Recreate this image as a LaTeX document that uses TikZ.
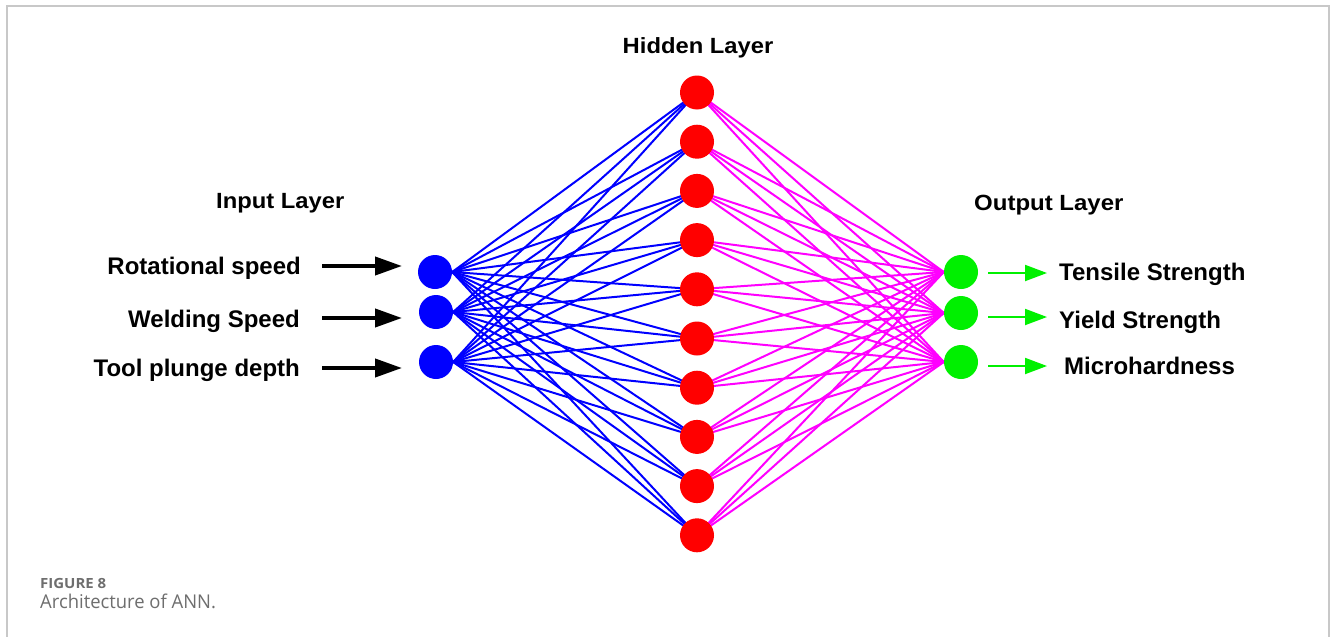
\documentclass[tikz,border=0pt]{standalone}
\usepackage{fontspec}
\setmainfont{Liberation Sans}
\newfontfamily\capfont{Open Sans}
\usetikzlibrary{arrows.meta}
\pgfdeclarelayer{paper}
\pgfdeclarelayer{bg}
\pgfsetlayers{paper,bg,main}
\definecolor{framegray}{HTML}{C8C8C8}
\definecolor{capgray}{HTML}{6E6E6E}
\definecolor{ngreen}{HTML}{00F000}
\definecolor{nblue}{HTML}{0000FF}
\definecolor{nred}{HTML}{FF0000}
\definecolor{nmag}{HTML}{FF00FF}
\begin{document}
\begin{tikzpicture}[x=1pt,y=-1pt,
  neuron/.style={circle,minimum size=34pt,inner sep=0pt},
  innode/.style={neuron,fill=nblue},
  hidnode/.style={neuron,fill=nred},
  outnode/.style={neuron,fill=ngreen},
  lbl/.style={font=\fontsize{24}{28}\selectfont\bfseries,inner sep=0pt},
  head/.style={font=\fontsize{22}{26}\selectfont\bfseries,inner sep=0pt},
  bline/.style={nblue,line width=2pt},
  mline/.style={nmag,line width=2pt},
  inarrow/.style={black,line width=4pt,-{Triangle[length=27pt,width=18pt]}},
  outarrow/.style={ngreen,line width=2pt,-{Triangle[length=22pt,width=16pt]}},
  captop/.style={anchor=base west,inner sep=0pt,text=capgray,font=\capfont\bfseries\fontsize{14}{16}\selectfont},
  capbody/.style={anchor=base west,inner sep=0pt,text=capgray,font=\capfont\fontsize{19}{22}\selectfont}
]
\useasboundingbox (0,0) rectangle (1331,637);
\begin{pgfonlayer}{paper}
\fill[white] (0,0) rectangle (1331,637);
\draw[framegray,line width=1.5pt] (7,637) -- (7,6) -- (1329,6) -- (1329,637);
\end{pgfonlayer}

% neurons
\node[innode] (i1) at (435,272) {};
\node[innode] (i2) at (436,312) {};
\node[innode] (i3) at (436,362) {};
\foreach \k in {1,...,10} \node[hidnode] (h\k) at (697,{92.5+49.2*(\k-1)}) {};
\node[outnode] (o1) at (961,272) {};
\node[outnode] (o2) at (961,313) {};
\node[outnode] (o3) at (961,362) {};

% connections
\begin{pgfonlayer}{bg}
\foreach \i in {1,2,3} \foreach \k in {1,...,10} {
  \draw[bline] (i\i.east) -- (h\k.center);
  \draw[mline] (h\k.center) -- (o\i.west);
}
\end{pgfonlayer}

% headings
\node[head,anchor=base west] (hin) at (216,208) {\scalebox{1.08}[1]{Input Layer}};
\node[head,anchor=base] (hhid) at (698,53) {\scalebox{1.08}[1]{Hidden Layer}};
\node[head,anchor=base west] (hout) at (974,210) {\scalebox{1.09}[1]{Output Layer}};

% input labels and arrows
\node[lbl,anchor=base east] (r1) at (301,274) {Rotational speed};
\node[lbl,anchor=base east] (r2) at (300,327) {Welding Speed};
\node[lbl,anchor=base east] (r3) at (300,376) {Tool plunge depth};
\coordinate (ia1s) at (322,266); \coordinate (ia1e) at (402,266);
\coordinate (ia2s) at (322,318); \coordinate (ia2e) at (402,318);
\coordinate (ia3s) at (322,368); \coordinate (ia3e) at (402,368);
\draw[inarrow] (ia1s) -- (ia1e);
\draw[inarrow] (ia2s) -- (ia2e);
\draw[inarrow] (ia3s) -- (ia3e);

% output labels and arrows
\node[lbl,anchor=base west] (t1) at (1059,280) {Tensile Strength};
\node[lbl,anchor=base west] (t2) at (1059,328) {Yield Strength};
\node[lbl,anchor=base west] (t3) at (1064,374) {Microhardness};
\coordinate (oa1s) at (988,273); \coordinate (oa1e) at (1047,273);
\coordinate (oa2s) at (988,317); \coordinate (oa2e) at (1047,317);
\coordinate (oa3s) at (988,366); \coordinate (oa3e) at (1047,366);
\draw[outarrow] (oa1s) -- (oa1e);
\draw[outarrow] (oa2s) -- (oa2e);
\draw[outarrow] (oa3s) -- (oa3e);

% caption
\node[captop] (fig) at (40,588) {\scalebox{1.07}[1]{FIGURE 8}};
\node[capbody] (cap) at (40,608) {\scalebox{0.97}[1]{Architecture of ANN.}};
\end{tikzpicture}
\end{document}
